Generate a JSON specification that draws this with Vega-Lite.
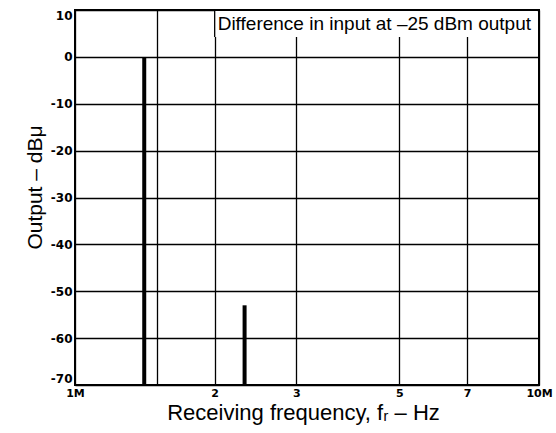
{
  "$schema": "https://vega.github.io/schema/vega-lite/v6.json",
  "width": 464,
  "height": 375,
  "autosize": {"type": "none"},
  "padding": {"left": 75, "top": 10, "right": 17, "bottom": 48},
  "background": "white",
  "config": {
    "view": {"stroke": "black", "strokeWidth": 2},
    "axis": {"gridColor": "black", "gridOpacity": 1, "gridWidth": 1.3, "domain": false, "ticks": false}
  },
  "datasets": {
    "bars": [
      {"freq": 1410000, "output": 0},
      {"freq": 2320000, "output": -53}
    ],
    "note": [
      {"x1": 2000000, "x2": 9930000, "y1": 4.25, "y2": 9.8, "label": "Difference in input at –25 dBm output"}
    ]
  },
  "layer": [
    {
      "data": {"name": "bars"},
      "mark": {"type": "rule", "strokeWidth": 4, "color": "black"},
      "encoding": {
        "x": {
          "field": "freq", "type": "quantitative",
          "scale": {"type": "log", "domain": [1000000, 10000000], "nice": false},
          "axis": {
            "values": [1000000, 1500000, 2000000, 3000000, 5000000, 7000000, 10000000],
            "labelExpr": "datum.value == 1000000 ? '1M' : datum.value == 10000000 ? '10M' : datum.value == 1500000 ? '' : format(datum.value / 1000000, 'd')",
            "labelFont": "DejaVu Sans", "labelFontWeight": "bold", "labelFontSize": 11, "labelColor": "black",
            "labelPadding": 2, "labelFlush": false, "labelOverlap": false,
            "title": "Receiving frequency, fᵣ – Hz",
            "titleFont": "Liberation Sans", "titleFontWeight": "normal", "titleFontSize": 22, "titleColor": "black",
            "titlePadding": 4, "titleX": 228
          }
        },
        "y": {
          "field": "output", "type": "quantitative",
          "scale": {"domain": [-70, 10], "nice": false},
          "axis": {
            "values": [10, 0, -10, -20, -30, -40, -50, -60, -70],
            "labelExpr": "datum.value < 0 ? '-' + abs(datum.value) : '' + datum.value",
            "labelFont": "DejaVu Sans", "labelFontWeight": "bold", "labelFontSize": 12, "labelColor": "black",
            "labelPadding": 3, "labelFlush": true,
            "title": "Output – dBμ",
            "titleFont": "Liberation Sans", "titleFontWeight": "normal", "titleFontSize": 21, "titleColor": "black",
            "titlePadding": 5, "titleY": 177
          }
        },
        "y2": {"datum": -70}
      }
    },
    {
      "data": {"name": "note"},
      "mark": {"type": "rect", "fill": "white", "stroke": null},
      "encoding": {
        "x": {"field": "x1", "type": "quantitative"},
        "x2": {"field": "x2"},
        "y": {"field": "y1", "type": "quantitative"},
        "y2": {"field": "y2"}
      }
    },
    {
      "data": {"name": "note"},
      "mark": {"type": "rule", "color": "black", "strokeWidth": 1.3},
      "encoding": {
        "x": {"field": "x1", "type": "quantitative"},
        "y": {"field": "y1", "type": "quantitative"},
        "y2": {"datum": 10}
      }
    },
    {
      "data": {"name": "note"},
      "mark": {"type": "text", "align": "left", "baseline": "middle", "dx": 3, "dy": 1, "font": "Liberation Sans", "fontSize": 19, "color": "black"},
      "encoding": {
        "x": {"field": "x1", "type": "quantitative"},
        "y": {"datum": 7.2, "type": "quantitative"},
        "text": {"field": "label"}
      }
    }
  ]
}
